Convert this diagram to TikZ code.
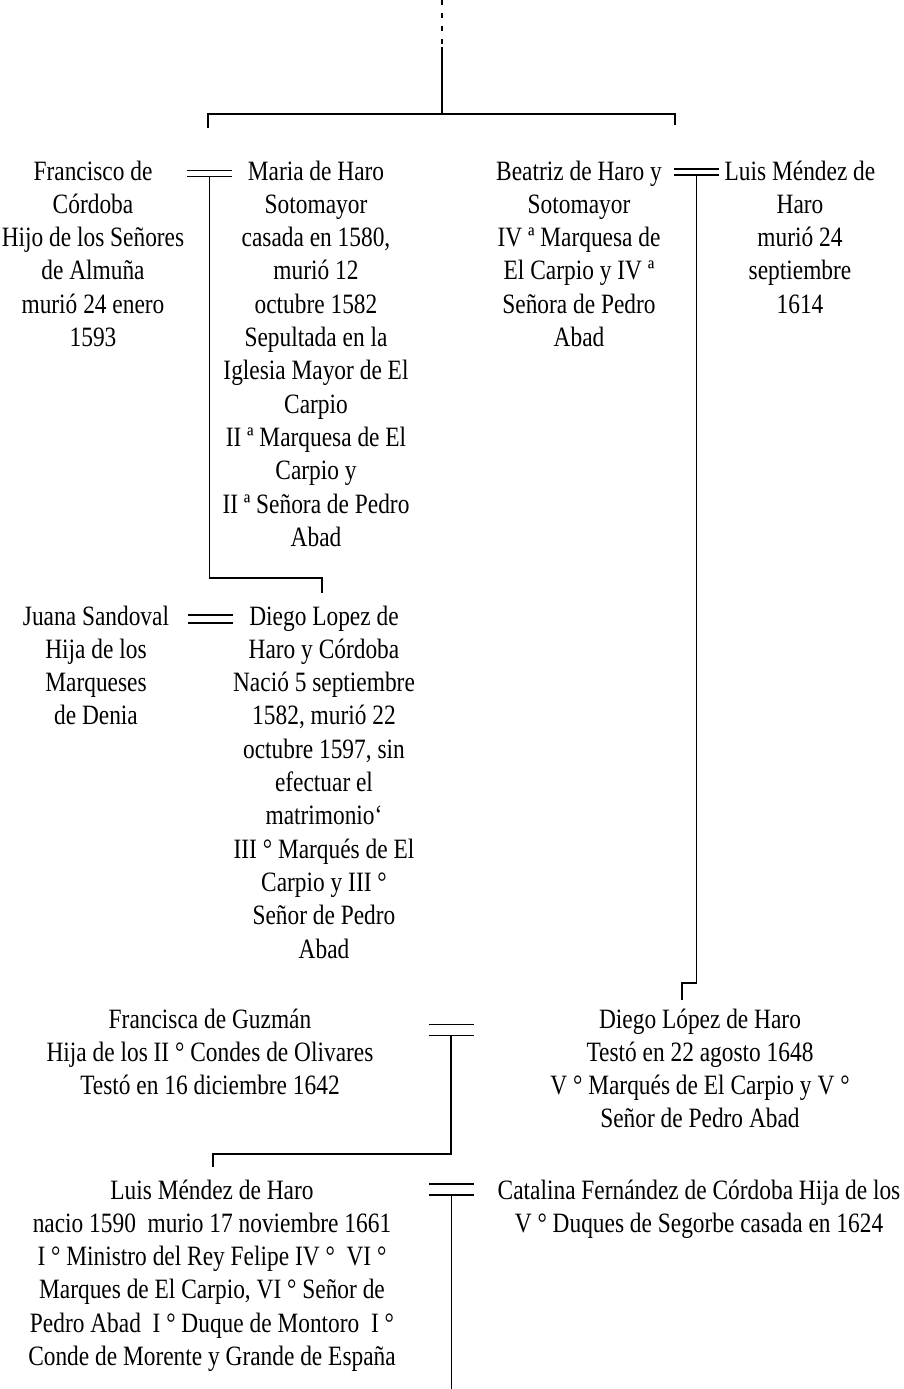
\documentclass[tikz,border=0pt]{standalone}
\usepackage{fontspec}
\setmainfont{Liberation Serif}[FakeStretch=0.835]
\newcommand\persfont{\fontsize{28}{33.3}\selectfont}
\newcommand\fl{\rule{0pt}{26pt}}
\begin{document}
\begin{tikzpicture}[x=1pt,y=-1pt,
  person/.style={inner sep=0pt, outer sep=0pt, anchor=north, align=center, font=\persfont},
  link/.style={line width=1.7pt, line cap=butt, line join=miter},
  wedbox/.style={inner sep=0pt, outer sep=0pt, minimum width=45pt, minimum height=#1},
  wedline/.style={line width=1.7pt}
]
\fill[white] (0,0) rectangle (904,1389);
\useasboundingbox (0,0) rectangle (904,1389);

% ---- persons ----
\node[person] (francisco) at (93,154) {\fl Francisco de\\Córdoba\\Hijo de los Señores\\de Almuña\\murió 24 enero\\1593};
\node[person] (maria) at (316,154) {\fl Maria de Haro\\Sotomayor\\casada en 1580,\\murió 12\\octubre 1582\\Sepultada en la\\Iglesia Mayor de El\\Carpio\\II ª Marquesa de El\\Carpio y\\II ª Señora de Pedro\\Abad};
\node[person] (beatriz) at (579,154) {\fl Beatriz de Haro y\\Sotomayor\\IV ª Marquesa de\\El Carpio y IV ª\\Señora de Pedro\\Abad};
\node[person] (luis1) at (800,154) {\fl Luis Méndez de\\Haro\\murió 24\\septiembre\\1614};

\node[person] (juana) at (96,599) {\fl Juana Sandoval\\Hija de los\\Marqueses\\de Denia};
\node[person] (diego1) at (324,599) {\fl Diego Lopez de\\Haro y Córdoba\\Nació 5 septiembre\\1582, murió 22\\octubre 1597, sin\\efectuar el\\matrimonio‘\\III ° Marqués de El\\Carpio y III °\\Señor de Pedro\\Abad};

\node[person] (francisca) at (210,1002) {\fl Francisca de Guzmán\\Hija de los II ° Condes de Olivares\\Testó en 16 diciembre 1642};
\node[person] (diego2) at (700,1002) {\fl Diego López de Haro\\Testó en 22 agosto 1648\\V ° Marqués de El Carpio y V °\\Señor de Pedro Abad};

\node[person] (luis2) at (212,1173) {\fl Luis Méndez de Haro\\nacio 1590 \ murio 17 noviembre 1661\\I ° Ministro del Rey Felipe IV ° \ VI °\\Marques de El Carpio, VI ° Señor de\\Pedro Abad \ I ° Duque de Montoro \ I °\\Conde de Morente y Grande de España};
\node[person] (catalina) at (699,1173) {\fl Catalina Fernández de Córdoba Hija de los\\V ° Duques de Segorbe casada en 1624};

% ---- marriage marks ----
\node[wedbox=6pt] (w1) at (209.5,173.5) {};
\node[wedbox=6pt] (w2) at (696.5,172) {};
\node[wedbox=8pt] (wj) at (210.5,619) {};
\node[wedbox=11pt] (w3) at (451,1030) {};
\node[wedbox=11pt] (w4) at (451.5,1189.5) {};
\foreach \w in {w1,w2,wj,w3,w4}{
  \draw[wedline] (\w.north west) -- (\w.north east);
  \draw[wedline] (\w.south west) -- (\w.south east);
}

% ---- top descent ----
\coordinate (top) at (442,0);
\coordinate (topsolid) at (442,47);
\coordinate (bmid) at (442,114);
\coordinate (bl) at (208,114);
\coordinate (br) at (675,114);
\coordinate (c1) at (208,128);
\coordinate (c2) at (675,125);
\draw[line width=1.3pt, dash pattern=on 5pt off 8pt] (top) -- (topsolid);
\draw[link] (topsolid) -- (bmid);
\draw[link] (c1) -- (bl) -- (br) -- (c2);

% ---- family 1: Francisco = Maria -> Diego ----
\coordinate (k1top) at (322,578);
\coordinate (k1) at (322,593);
\draw[link] (w1.south) |- (k1top) -- (k1);

% ---- family 2: Beatriz = Luis -> Diego Lopez ----
\coordinate (k2top) at (682,983);
\coordinate (k2) at (682,1000);
\draw[link] (w2.south) |- (k2top) -- (k2);

% ---- family 3: Francisca = Diego -> Luis ----
\coordinate (k3top) at (213,1154);
\coordinate (k3) at (213,1167);
\draw[link] (w3.south) |- (k3top) -- (k3);

% ---- family 4: Luis = Catalina -> ----
\coordinate (e4) at (451.5,1389);
\draw[link] (w4.south) -- (w4.south |- e4);
\end{tikzpicture}
\end{document}
